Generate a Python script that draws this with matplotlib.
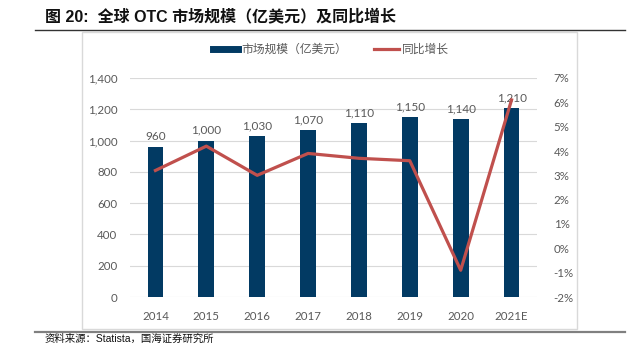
import matplotlib
matplotlib.use("Agg")
from matplotlib import pyplot as plt
from matplotlib.lines import Line2D
from matplotlib.patches import Rectangle
from matplotlib.ticker import FuncFormatter
import numpy as np

plt.rcParams['font.family'] = ['Lato', 'Noto Sans CJK SC', 'DejaVu Sans']

years = ["2014", "2015", "2016", "2017", "2018", "2019", "2020", "2021E"]
market_size = [960, 1000, 1030, 1070, 1110, 1150, 1140, 1210]
yoy_growth = [3.2, 4.2, 3.0, 3.9, 3.7, 3.6, -0.9, 6.1]

bar_color = "#023A63"
line_color = "#C0504D"
text_color = "#595959"
grid_color = "#D9D9D9"

W, H = 639, 344
fig = plt.figure(figsize=(W / 100, H / 100), dpi=100)

# chart frame and the report's rules
fig.patches.append(Rectangle((82 / W, 1 - 329 / H), 495 / W, 297 / H,
                             transform=fig.transFigure, fill=False,
                             edgecolor=grid_color, linewidth=1))
fig.add_artist(Line2D([35 / W, 625 / W], [1 - 30 / H, 1 - 30 / H],
                      color="#333333", linewidth=1.0))
fig.add_artist(Line2D([35 / W, 625 / W], [1 - 332 / H, 1 - 332 / H],
                      color="#808080", linewidth=1.6))

fig.text(45 / W, 1 - 16 / H, "图 20:  全球 OTC 市场规模（亿美元）及同比增长",
         fontsize=11.5, fontweight="bold", color="#111111", va="center",
         family=['Liberation Sans', 'Noto Sans CJK SC'])
fig.text(45 / W, 1 - 343.5 / H, "资料来源：Statista，国海证券研究所",
         fontsize=7.5, color="#111111", va="bottom",
         family=['Liberation Sans', 'Noto Sans CJK SC'])

ax = fig.add_axes([130 / W, 1 - 297 / H, 407 / W, 219 / H])
x = np.arange(len(years))
bars = ax.bar(x, market_size, width=0.31, color=bar_color, zorder=2)
ax.set_ylim(0, 1400)
ax.set_xlim(-0.5, len(years) - 0.5)
ax.set_yticks(range(0, 1401, 200))
ax.yaxis.set_major_formatter(FuncFormatter(lambda v, p: f"{int(v):,}"))
ax.set_xticks(x)
ax.set_xticklabels(years)
ax.grid(axis="y", color=grid_color, linewidth=0.8, zorder=0)
ax.set_axisbelow(True)
for s in ax.spines.values():
    s.set_visible(False)
ax.tick_params(length=0, labelsize=8.3, colors=text_color)
ax.tick_params(axis="x", pad=10)
ax.tick_params(axis="y", pad=9)

for xi, v in zip(x, market_size):
    ax.text(xi, v + 30, f"{v:,}", ha="center", va="bottom",
            fontsize=8.5, color=text_color)

ax2 = ax.twinx()
ax2.plot(x, yoy_growth, color=line_color, linewidth=2.3, zorder=3)
ax2.set_ylim(-2, 7)
ax2.set_yticks(range(-2, 8))
ax2.yaxis.set_major_formatter(FuncFormatter(lambda v, p: f"{int(v)}%"))
for s in ax2.spines.values():
    s.set_visible(False)
ax2.tick_params(length=0, labelsize=8.3, colors=text_color, pad=12)

handles = [Line2D([], [], color=bar_color, linewidth=5),
           Line2D([], [], color=line_color, linewidth=2.3)]
fig.legend(handles, ["市场规模（亿美元）", "同比增长"],
           loc="center", bbox_to_anchor=(331 / W, 1 - 49 / H), ncol=2,
           frameon=False, fontsize=8.5, labelcolor=text_color,
           handlelength=2.1, columnspacing=2.3, handletextpad=0.25)

fig.savefig("out.png", dpi=100)
